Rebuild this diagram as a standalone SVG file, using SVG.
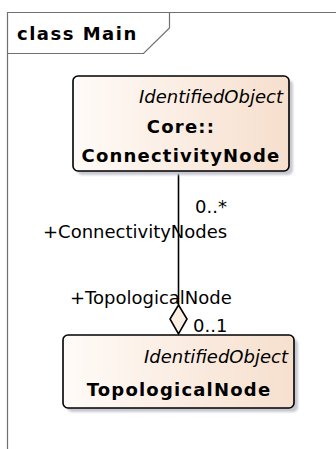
<svg xmlns="http://www.w3.org/2000/svg" width="336" height="449" viewBox="0 0 336 449">
<defs>
<linearGradient id="fillG" x1="0" y1="0" x2="1" y2="0">
<stop offset="0" stop-color="#fffbf8"/>
<stop offset="1" stop-color="#f6dfcd"/>
</linearGradient>
<filter id="blur" x="-10%" y="-10%" width="130%" height="130%"><feGaussianBlur stdDeviation="1.2"/></filter>
</defs>
<style>
.frame{fill:none;stroke:#707070;stroke-width:1.2}
.box{fill:url(#fillG);stroke:#000;stroke-width:1.6}
.shadow{fill:#c8c8d2;filter:url(#blur)}
.t{font-family:"DejaVu Sans",sans-serif;fill:#000}
.ital{font-size:18px;font-style:italic}
.bold{font-size:18px;font-weight:bold;letter-spacing:1.2px}
.lbl{font-size:18px}
.conn{stroke:#000;stroke-width:1.6;fill:none}
</style>
<g id="frame">
<path class="frame" d="M7.5,449 V12.5 H336"/>
<path class="frame" d="M7.5,53.5 H143.5 L169.5,28 V12.5"/>
<text class="t" x="17" y="40" style="font-size:18px;font-weight:bold;letter-spacing:1.5px">class Main</text>
</g>
<g id="connectors">
<line class="conn" x1="178.5" y1="171" x2="178.5" y2="305"/>
<path d="M178.5,305 L187,319 L178.5,334 L170,319 Z" fill="#fbeee3" stroke="#000" stroke-width="1.6"/>
<text class="t lbl" x="195" y="213">0..*</text>
<text class="t lbl" x="43" y="238">+ConnectivityNodes</text>
<text class="t lbl" x="70" y="304">+TopologicalNode</text>
<text class="t lbl" x="193" y="332">0..1</text>
</g>
<g id="ConnectivityNode">
<rect class="shadow" x="77" y="80" width="216" height="95" rx="5"/>
<rect class="box" x="73" y="76" width="216" height="95" rx="5"/>
<text class="t ital" x="283" y="103" text-anchor="end">IdentifiedObject</text>
<text class="t bold" x="181" y="133" text-anchor="middle">Core::</text>
<text class="t bold" x="181" y="162" text-anchor="middle">ConnectivityNode</text>
</g>
<g id="TopologicalNode">
<rect class="shadow" x="67" y="339" width="231" height="73" rx="5"/>
<rect class="box" x="63" y="335" width="231" height="73" rx="5"/>
<text class="t ital" x="288" y="363" text-anchor="end">IdentifiedObject</text>
<text class="t bold" x="179" y="396" text-anchor="middle">TopologicalNode</text>
</g>
</svg>
